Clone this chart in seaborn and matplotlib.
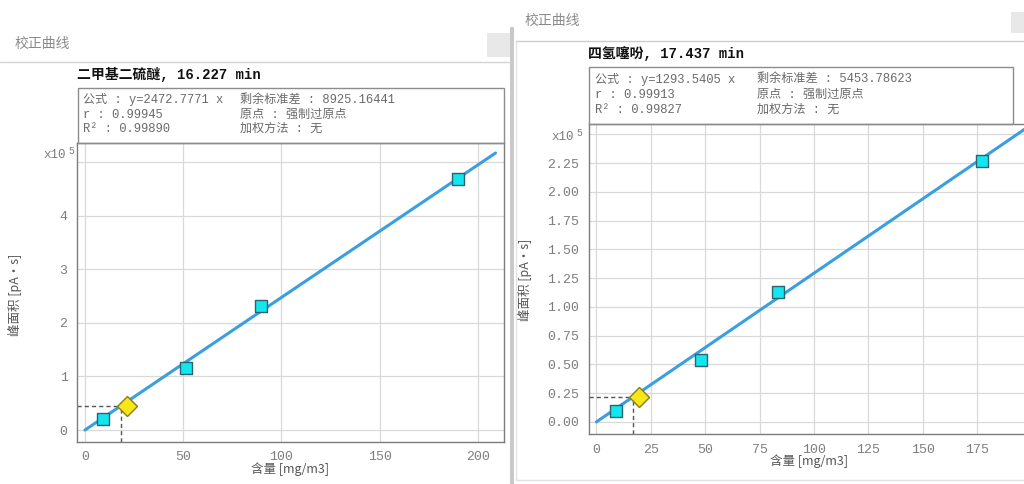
import numpy as np
import pandas as pd
import matplotlib
matplotlib.use("Agg")
import matplotlib.pyplot as plt
import matplotlib.transforms as mtransforms
from matplotlib.patches import Rectangle
from matplotlib.lines import Line2D
from matplotlib.ticker import MultipleLocator, FuncFormatter
import seaborn as sns

# ---- calibration data ----
# 二甲基二硫醚
conc_dmds = [9.3, 51.3, 89.4, 189.7]                  # mg/m3
area_dmds = [20000, 115700, 232000, 468000]           # pA*s
slope_dmds = 2472.7771
sample_conc_dmds = 18.1
fit_range_dmds = [0, 209]

# 四氢噻吩
conc_tht = [8.95, 48.0, 83.4, 177.2]
area_tht = [9800, 54000, 113200, 226700]
slope_tht = 1293.5405
sample_conc_tht = 16.6
fit_range_tht = [0, 198]

SCALE = 1e5

W, H = 1024, 484
sns.set_style("white")
plt.rcParams["font.family"] = ["Liberation Mono", "Noto Sans CJK SC", "DejaVu Sans"]
plt.rcParams["axes.unicode_minus"] = False

fig = plt.figure(figsize=(W / 100, H / 100), dpi=100)
fig.patch.set_facecolor("white")

CJK = ["Noto Sans CJK SC", "DejaVu Sans"]
MONO = ["Liberation Mono", "Noto Sans CJK SC", "DejaVu Sans"]


def fx(x):
    return x / W


def fy(y):
    return 1 - y / H


def rect_px(x0, y0, x1, y1, **kw):
    fig.add_artist(Rectangle((fx(x0), fy(y1)), (x1 - x0) / W, (y1 - y0) / H,
                             transform=fig.transFigure, **kw))


def hline_px(x0, x1, y, **kw):
    fig.add_artist(Line2D([fx(x0), fx(x1)], [fy(y), fy(y)], transform=fig.transFigure, **kw))


def vline_px(x, y0, y1, **kw):
    fig.add_artist(Line2D([fx(x), fx(x)], [fy(y0), fy(y1)], transform=fig.transFigure, **kw))


# ---- window chrome ----
hline_px(0, 510, 62.3, color="#d4d4d4", lw=1.0)
rect_px(487, 33, 510, 57, facecolor="#e8e8e8", edgecolor="none")
rect_px(510, 27, 513.5, H, facecolor="#c9c9c9", edgecolor="none")
vline_px(515.5, 41, 480, color="#e2e2e2", lw=1.0)
hline_px(515.5, W, 41, color="#cccccc", lw=1.0)
hline_px(515.5, W, 480, color="#e2e2e2", lw=1.0)
rect_px(1011, 12, W, 33, facecolor="#e8e8e8", edgecolor="none")
fig.text(fx(15), fy(44), "校正曲线", family=CJK, fontsize=10, color="#8a8a8a", va="center")
fig.text(fx(525), fy(21), "校正曲线", family=CJK, fontsize=10, color="#8a8a8a", va="center")


def draw_panel(box, xlim, ylim, conc, area, slope, sample_conc, fit_range,
               xmajor, xminor, ymajor, yminor, ydigits, ytop, title, title_pos,
               info_box, info_cols, info_rows, info_lines,
               xlabel_pos, ylabel_pos, exp_pos):
    x0, y0, x1, y1 = box
    ax = fig.add_axes([fx(x0), fy(y1), (x1 - x0) / W, (y1 - y0) / H])
    ax.set_xlim(*xlim)
    ax.set_ylim(*ylim)
    ax.set_facecolor("white")

    ax.xaxis.set_major_locator(MultipleLocator(xmajor))
    ax.xaxis.set_minor_locator(MultipleLocator(xminor))
    ax.yaxis.set_major_locator(MultipleLocator(ymajor))
    ax.yaxis.set_minor_locator(MultipleLocator(yminor))

    # the topmost y tick carries the exponent label instead of a number
    def yfmt(v, pos):
        if v >= ytop - 1e-9:
            return ""
        return f"{v:.{ydigits}f}"

    ax.yaxis.set_major_formatter(FuncFormatter(yfmt))
    ax.grid(True, which="major", color="#d9d9d9", lw=0.9)
    ax.set_axisbelow(True)
    for s in ax.spines.values():
        s.set_color("#7c7c7c")
        s.set_linewidth(1.0)
    ax.tick_params(which="major", direction="out", length=4, width=0.8, color="#b0b0b0",
                   labelsize=9.5, labelcolor="#7d7d7d", pad=3)
    ax.tick_params(which="minor", direction="out", length=2, width=0.6, color="#c8c8c8")
    for lab in ax.get_xticklabels() + ax.get_yticklabels():
        lab.set_family(MONO)

    # fitted line through the origin
    fit = pd.DataFrame({"x": fit_range, "y": [slope * v / SCALE for v in fit_range]})
    sns.lineplot(data=fit, x="x", y="y", ax=ax, color="#3a9fe0", lw=2.2, zorder=3)

    # sample read-off guides
    sample_area = slope * sample_conc / SCALE
    ax.plot([xlim[0], sample_conc], [sample_area, sample_area], color="#555555", lw=1.0,
            dashes=(3, 2.2), zorder=2)
    ax.plot([sample_conc, sample_conc], [ylim[0], sample_area], color="#555555", lw=1.0,
            dashes=(3, 2.2), zorder=2)

    # calibration standards
    pts = pd.DataFrame({"x": conc, "y": [a / SCALE for a in area]})
    sns.scatterplot(data=pts, x="x", y="y", ax=ax, marker="s", s=75, color="#14e6f0",
                    edgecolor="#2a6470", linewidth=1.0, zorder=5)

    # sample marker
    shifted = mtransforms.offset_copy(ax.transData, fig=fig, x=6, y=0, units="dots")
    ax.plot([sample_conc], [sample_area], marker="D", ms=10, mfc="#f7e61a", mec="#8a7c10",
            mew=1.0, ls="none", transform=shifted, zorder=6)

    ax.set_xlabel("含量 [mg/m3]", family=CJK, fontsize=9, color="#555555")
    ax.set_ylabel("峰面积 [pA•s]", family=CJK, fontsize=9, color="#555555")
    ax.xaxis.set_label_coords((xlabel_pos[0] - x0) / (x1 - x0), (y1 - xlabel_pos[1]) / (y1 - y0))
    ax.xaxis.label.set_va("center")
    ax.yaxis.set_label_coords((ylabel_pos[0] - x0) / (x1 - x0), (y1 - ylabel_pos[1]) / (y1 - y0))
    ax.yaxis.label.set_va("center")

    fig.text(fx(exp_pos[0]), fy(exp_pos[1]), "x10", family=MONO, fontsize=9,
             color="#7d7d7d", ha="right", va="center")
    fig.text(fx(exp_pos[0] + 2), fy(exp_pos[1] - 4), "5", family=MONO, fontsize=7,
             color="#7d7d7d", ha="left", va="center")

    # heading and fit statistics box
    fig.text(fx(title_pos[0]), fy(title_pos[1]), title, family=MONO, fontsize=10,
             fontweight="bold", color="#111111", va="center")
    bx0, by0, bx1, by1 = info_box
    rect_px(bx0, by0, bx1, by1, facecolor="none", edgecolor="#8c8c8c", lw=1.0)
    for col, lines in zip(info_cols, info_lines):
        for row, txt in zip(info_rows, lines):
            fig.text(fx(col), fy(row), txt, family=MONO, fontsize=8.7, color="#6a6a6a",
                     va="center")
    return ax


draw_panel(
    box=(77.3, 142.7, 504, 441.7), xlim=(-3.9, 213.3), ylim=(-0.218, 5.36),
    conc=conc_dmds, area=area_dmds, slope=slope_dmds, sample_conc=sample_conc_dmds,
    fit_range=fit_range_dmds, xmajor=50, xminor=25, ymajor=1, yminor=0.5, ydigits=0, ytop=5,
    title="二甲基二硫醚, 16.227 min", title_pos=(77, 75),
    info_box=(77.7, 88, 504, 142.7), info_cols=(83, 240), info_rows=(100, 114.5, 129),
    info_lines=(["公式 : y=2472.7771 x", "r : 0.99945", "R² : 0.99890"],
                ["剩余标准差 : 8925.16441", "原点 : 强制过原点", "加权方法 : 无"]),
    xlabel_pos=(290, 469), ylabel_pos=(15, 295), exp_pos=(66, 155),
)

draw_panel(
    box=(589, 124, 589 + 438.4, 434), xlim=(-3.4, 198), ylim=(-0.105, 2.59),
    conc=conc_tht, area=area_tht, slope=slope_tht, sample_conc=sample_conc_tht,
    fit_range=fit_range_tht, xmajor=25, xminor=12.5, ymajor=0.25, yminor=0.125, ydigits=2,
    ytop=2.5, title="四氢噻吩, 17.437 min", title_pos=(588, 54),
    info_box=(589, 66.7, 1013, 124), info_cols=(595, 757), info_rows=(79, 94.5, 110),
    info_lines=(["公式 : y=1293.5405 x", "r : 0.99913", "R² : 0.99827"],
                ["剩余标准差 : 5453.78623", "原点 : 强制过原点", "加权方法 : 无"]),
    xlabel_pos=(809, 461), ylabel_pos=(525, 280), exp_pos=(574, 137),
)

fig.savefig("out.png", dpi=100, facecolor="white")
